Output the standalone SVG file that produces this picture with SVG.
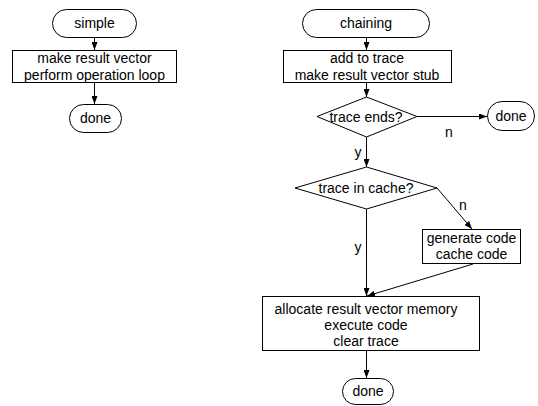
<svg xmlns="http://www.w3.org/2000/svg" width="538" height="406" viewBox="0 0 538 406">
<style>
.s{fill:#fff;stroke:#000;stroke-width:1}
.t{font-family:"Liberation Sans",Arial,sans-serif;font-size:14px;fill:#000;text-anchor:middle}
.c{fill:none;stroke:#000;stroke-width:1}
</style>
<defs>
<marker id="a" viewBox="0 0 8 6" refX="8" refY="3" markerWidth="8" markerHeight="6" markerUnits="userSpaceOnUse" orient="auto">
<path d="M0,0 L8,3 L0,6 Z" fill="#000"/>
</marker>
</defs>
<rect width="538" height="406" fill="#fff"/>
<g id="connectors">
<line class="c" x1="94.5" y1="38" x2="94.5" y2="50" marker-end="url(#a)"/>
<line class="c" x1="94.5" y1="83" x2="94.5" y2="104" marker-end="url(#a)"/>
<line class="c" x1="366.5" y1="38" x2="366.5" y2="50" marker-end="url(#a)"/>
<line class="c" x1="366.5" y1="83" x2="366.5" y2="97" marker-end="url(#a)"/>
<line class="c" x1="417" y1="116.5" x2="487" y2="116.5" marker-end="url(#a)"/>
<line class="c" x1="366.5" y1="137" x2="366.5" y2="167" marker-end="url(#a)"/>
<line class="c" x1="437" y1="188" x2="472" y2="229" marker-end="url(#a)"/>
<line class="c" x1="366.5" y1="209" x2="366.5" y2="296" marker-end="url(#a)"/>
<line class="c" x1="473" y1="264" x2="367" y2="296" marker-end="url(#a)"/>
<line class="c" x1="366.5" y1="351" x2="366.5" y2="378" marker-end="url(#a)"/>
<text class="t" x="449" y="137">n</text>
<text class="t" x="358" y="157">y</text>
<text class="t" x="463" y="210">n</text>
<text class="t" x="358" y="252">y</text>
</g>
<g id="simple">
<rect class="s" x="52.5" y="9.5" width="84" height="28" rx="14"/>
<text class="t" x="94.5" y="28">simple</text>
</g>
<g id="make">
<rect class="s" x="12.5" y="50.5" width="164" height="32"/>
<text class="t" x="94.5" y="63">make result vector</text>
<text class="t" x="94.5" y="80">perform operation loop</text>
</g>
<g id="done1">
<rect class="s" x="69.5" y="104.5" width="52" height="28" rx="14"/>
<text class="t" x="95.5" y="123">done</text>
</g>
<g id="chaining">
<rect class="s" x="302.5" y="9.5" width="127" height="28" rx="14"/>
<text class="t" x="366" y="28">chaining</text>
</g>
<g id="addtrace">
<rect class="s" x="283.5" y="50.5" width="168" height="32"/>
<text class="t" x="367" y="63">add to trace</text>
<text class="t" x="367" y="80">make result vector stub</text>
</g>
<g id="traceends">
<polygon class="s" points="366.5,97 417,116.5 366.5,137 317,116.5"/>
<text class="t" x="366" y="121.5">trace ends?</text>
</g>
<g id="done2">
<rect class="s" x="487.5" y="101.5" width="47" height="29" rx="14.5"/>
<text class="t" x="511" y="121">done</text>
</g>
<g id="traceincache">
<polygon class="s" points="366.5,167 437,188 366.5,209 295,188"/>
<text class="t" x="366" y="193">trace in cache?</text>
</g>
<g id="generate">
<rect class="s" x="422.5" y="229.5" width="98" height="34"/>
<text class="t" x="471.5" y="243">generate code</text>
<text class="t" x="471.5" y="259">cache code</text>
</g>
<g id="allocate">
<rect class="s" x="262.5" y="296.5" width="217" height="54"/>
<text class="t" x="366" y="314">allocate result vector memory</text>
<text class="t" x="366" y="330">execute code</text>
<text class="t" x="366" y="346">clear trace</text>
</g>
<g id="done3">
<rect class="s" x="342.5" y="378.5" width="51" height="26" rx="13"/>
<text class="t" x="368" y="396">done</text>
</g>
</svg>
